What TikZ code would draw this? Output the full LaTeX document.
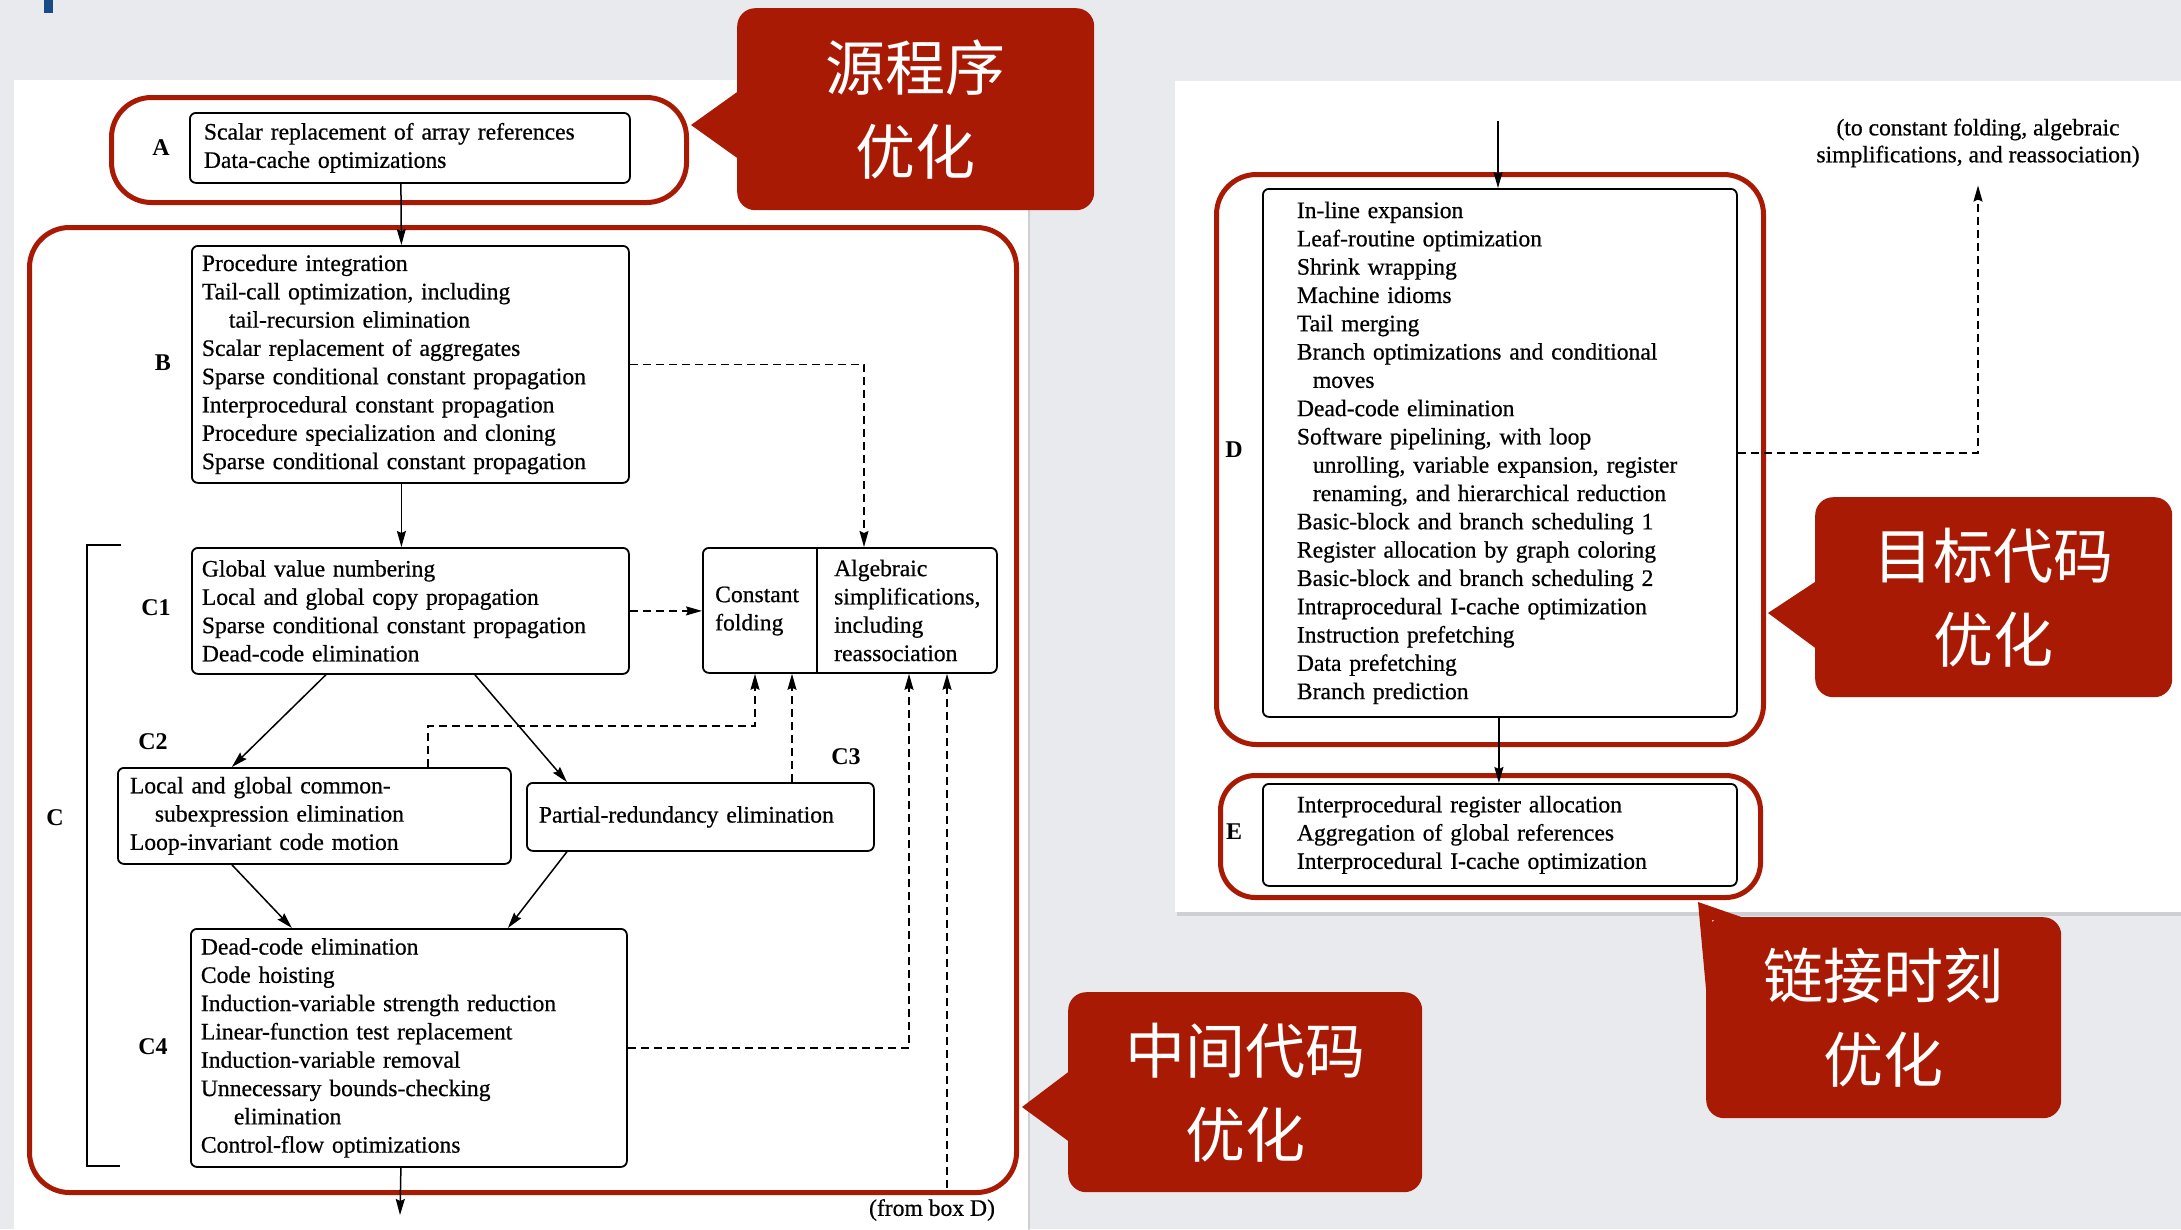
\documentclass[tikz,border=0pt]{standalone}
\usepackage{fontspec}
\setmainfont{Liberation Serif}
\newfontfamily\bk{Liberation Serif}[FakeBold=0.6]
\newfontfamily\cjk{Noto Sans CJK SC}
\usetikzlibrary{arrows.meta,shadows,calc}
\definecolor{calred}{RGB}{168,26,4}
\definecolor{bggray}{RGB}{232,234,238}
\definecolor{markblue}{RGB}{25,75,135}
\begin{document}
\begin{tikzpicture}[x=1pt,y=-1pt,
  txt/.style={font=\bk\fontsize{23.6}{28.3}\selectfont, align=left, inner sep=0pt},
  box/.style={draw=black, line width=1.8pt, rounded corners=6pt, anchor=north west,
    align=left, font=\bk\fontsize{23.6}{28.3}\selectfont, inner ysep=0pt, fill=white},
  lbl/.style={font=\fontsize{24}{28}\selectfont\bfseries, inner sep=0pt},
  redframe/.style={draw=calred, line width=5pt, rounded corners=40pt, anchor=north west, inner sep=0pt},
  arr/.style={line width=1.5pt, -{Stealth[length=16pt,width=9pt,inset=2pt]}},
  dsh/.style={line width=1.5pt, dash pattern=on 8pt off 5pt},
  callout/.style={fill=calred, rounded corners=18pt, anchor=north west, text=white,
    font=\cjk\fontsize{60}{84}\selectfont, align=center, inner sep=0pt},
  panel/.style={fill=white, drop shadow={opacity=0.25, shadow xshift=2pt, shadow yshift=-4pt}}
]
\useasboundingbox (0,0) rectangle (2181,1229);
\clip (0,0) rectangle (2181,1229);
% background
\fill[bggray] (0,0) rectangle (2181,1229);
\fill[markblue] (44,0) rectangle (53,13);
% panels
\path[panel] (14,80) rectangle (1028,1260);
\path[panel] (1175,81) rectangle (2200,912);

% red frames
\node[redframe, minimum width=575pt, minimum height=105pt] (frA) at (109,95) {};
\node[redframe, minimum width=987pt, minimum height=965pt] (frC) at (27,225) {};
\node[redframe, minimum width=547pt, minimum height=570pt] (frD) at (1214,172) {};
\node[redframe, minimum width=540pt, minimum height=122pt, rounded corners=35pt] (frE) at (1218,773) {};

% boxes
\node[box, minimum width=440pt, minimum height=70pt, inner xsep=14pt, text width=412pt] (A) at (189,112)
  {Scalar replacement of array references\\Data-cache optimizations};
\node[box, minimum width=437pt, minimum height=237pt, inner xsep=10pt, text width=417pt] (B) at (191,245)
  {Procedure integration\\Tail-call optimization, including\\\hspace*{27pt}tail-recursion elimination\\Scalar replacement of aggregates\\Sparse conditional constant propagation\\Interprocedural constant propagation\\Procedure specialization and cloning\\Sparse conditional constant propagation};
\node[box, minimum width=437pt, minimum height=126pt, inner xsep=10pt, text width=417pt] (C1) at (191,547)
  {Global value numbering\\Local and global copy propagation\\Sparse conditional constant propagation\\Dead-code elimination};
\node[box, minimum width=393pt, minimum height=96pt, inner xsep=12pt, text width=369pt] (C2) at (117,767)
  {Local and global common-\\\hspace*{25pt}subexpression elimination\\Loop-invariant code motion};
\node[box, minimum width=347pt, minimum height=68pt, inner xsep=12pt, text width=323pt] (C3) at (526,782)
  {Partial-redundancy elimination};
\node[box, minimum width=436pt, minimum height=238pt, inner xsep=10pt, text width=416pt] (C4) at (190,928)
  {Dead-code elimination\\Code hoisting\\Induction-variable strength reduction\\Linear-function test replacement\\Induction-variable removal\\Unnecessary bounds-checking\\\hspace*{33pt}elimination\\Control-flow optimizations};
\node[box, minimum width=294pt, minimum height=125pt, inner sep=0pt] (fold) at (702,547) {};
\draw[line width=1.5pt] ([xshift=115pt]fold.north west) -- ([xshift=115pt]fold.south west);
\node[txt, anchor=west] (cf) at (715,611) {Constant\\folding};
\node[txt, anchor=west] (alg) at (834,610.5) {Algebraic\\simplifications,\\including\\reassociation};

\node[box, minimum width=474pt, minimum height=528pt, inner xsep=34pt, text width=406pt] (D) at (1262,188)
  {In-line expansion\\Leaf-routine optimization\\Shrink wrapping\\Machine idioms\\Tail merging\\Branch optimizations and conditional\\\hspace*{16pt}moves\\Dead-code elimination\\Software pipelining, with loop\\\hspace*{16pt}unrolling, variable expansion, register\\\hspace*{16pt}renaming, and hierarchical reduction\\Basic-block and branch scheduling 1\\Register allocation by graph coloring\\Basic-block and branch scheduling 2\\Intraprocedural I-cache optimization\\Instruction prefetching\\Data prefetching\\Branch prediction};
\node[box, minimum width=474pt, minimum height=102pt, inner xsep=34pt, text width=406pt] (E) at (1262,783)
  {Interprocedural register allocation\\Aggregation of global references\\Interprocedural I-cache optimization};

% labels
\node[lbl] (lA) at (161,148) {A};
\node[lbl] (lB) at (163,363) {B};
\node[lbl] (lC1) at (156,608) {C1};
\node[lbl] (lC2) at (153,742) {C2};
\node[lbl] (lC3) at (846,757) {C3};
\node[lbl] (lC4) at (153,1047) {C4};
\node[lbl] (lC) at (55,818) {C};
\node[lbl] (lD) at (1234,450) {D};
\node[lbl] (lE) at (1234,832) {E};
\node[txt] (fromtxt) at (932,1210) {(from box D)};
\node[txt, align=center, font=\bk\fontsize{23.6}{27}\selectfont] (totxt) at (1978,143)
  {(to constant folding, algebraic\\simplifications, and reassociation)};

% C bracket
\draw[line width=1.5pt] (121,545) -- (87,545) -- (87,1166) -- (120,1166);

% solid connectors
\draw[arr] ([xshift=-9pt]A.south) -- ([xshift=-9pt]B.north);
\draw[arr] ([xshift=-9pt]B.south) -- ([xshift=-9pt]C1.north);
\draw[arr] ([xshift=-84.5pt]C1.south) -- ([xshift=-82.5pt]C2.north);
\draw[arr] ([xshift=64.5pt]C1.south) -- ([xshift=-133.5pt]C3.north);
\draw[arr] ([xshift=-82.5pt]C2.south) -- ([xshift=-117pt]C4.north);
\draw[arr] ([xshift=-133.5pt]C3.south) -- ([xshift=99pt]C4.north);
\coordinate (outC) at (400,1215);
\draw[arr] ([xshift=-8pt]C4.south) -- (outC);
\coordinate (Din) at (1498,121);
\draw[arr] (Din) -- (Din |- D.north);
\draw[arr] ([xshift=-1pt]D.south) -- ([xshift=-1pt]E.north);

% dashed connectors
\draw[dsh, arr] (B.east) -| ([xshift=162pt]fold.north west);
\draw[dsh, arr] (C1.east) -- (C1.east -| fold.west);
\draw[dsh, arr] ([xshift=113.5pt]C2.north) -- ++(0,-41) -| ([xshift=53pt]fold.south west);
\draw[dsh, arr] ([xshift=90pt]fold.south west |- C3.north) -- ([xshift=90pt]fold.south west);
\draw[dsh, arr] (C4.east) -| ([xshift=207pt]fold.south west);
\coordinate (fromD) at (947,1188);
\draw[dsh, arr] (fromD) -- (fromD |- fold.south);
\draw[dsh, arr] (D.east) -| ([yshift=-18pt]totxt.south);

% callouts
\node[callout, minimum width=357pt, minimum height=202pt] (cA) at (737,8) {源程序\\优化};
\fill[calred] (740,90) -- (691,125) -- (740,160) -- cycle;
\node[callout, minimum width=354pt, minimum height=200pt] (cC) at (1068,992) {中间代码\\优化};
\fill[calred] (1071,1070) -- (1022,1107) -- (1071,1143) -- cycle;
\node[callout, minimum width=357pt, minimum height=200pt] (cD) at (1815,497) {目标代码\\优化};
\fill[calred] (1818,580) -- (1768,613) -- (1818,650) -- cycle;
\node[callout, minimum width=355pt, minimum height=201pt] (cE) at (1706,917) {链接时刻\\优化};
\fill[calred] (1750,920) -- (1698,902) -- (1707,1000) -- (1712,920) -- cycle;
\end{tikzpicture}
\end{document}
